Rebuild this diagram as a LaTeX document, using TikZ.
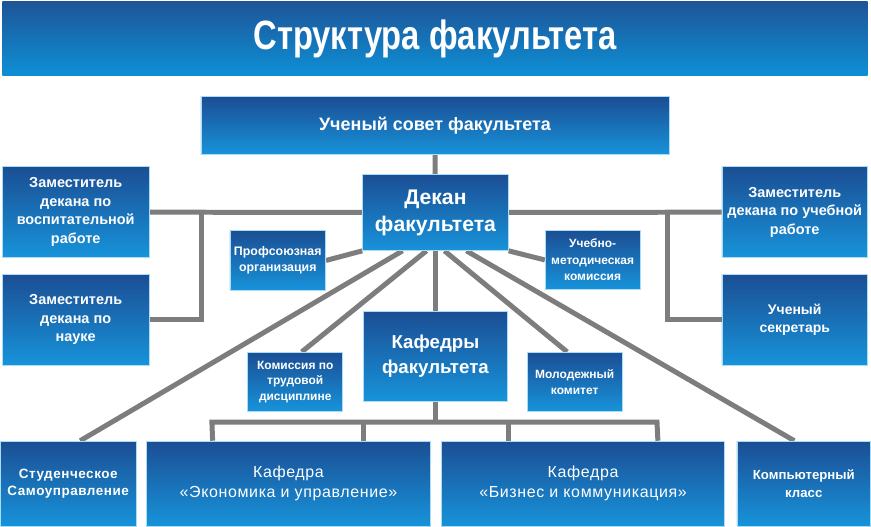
\documentclass[tikz,border=0pt]{standalone}
\usepackage{fontspec}
\setmainfont{Liberation Sans}
\newfontfamily\titlefont[FakeStretch=0.8]{Liberation Sans}
\newfontfamily\kafont[LetterSpace=4]{Liberation Sans}
\usepackage{tikz}
\usetikzlibrary{positioning, backgrounds}
\definecolor{boxTop}{HTML}{1B4E94}
\definecolor{boxBot}{HTML}{1793DA}
\definecolor{boxEdge}{HTML}{A9DDF6}
\definecolor{ttlTop}{HTML}{1D5598}
\definecolor{ttlBot}{HTML}{0E90D6}
\definecolor{link}{HTML}{7D7D7D}
\newcommand{\fs}[2]{\fontsize{#1}{#2}\selectfont}
\begin{document}
\begin{tikzpicture}[x=1pt, y=-1pt, box/.style={draw=boxEdge, line width=0.7pt, top color=boxTop, bottom color=boxBot, text=white, align=center, inner sep=1pt},lnk/.style={draw=link, line width=5pt}]
\node[top color=ttlTop, bottom color=ttlBot, minimum width=867pt, minimum height=74pt, text=white, font=\titlefont\bfseries\fs{41}{46}] (ttl) at (435.5,39) {Структура факультета};
\node[box, minimum width=469pt, minimum height=58pt, font=\bfseries\fs{18}{22}] (sov) at (435.5,126) {Ученый совет факультета};
\node[box, minimum width=146pt, minimum height=76pt, font=\bfseries\fs{21.2}{27}] (dek) at (436,213) {Декан\\факультета};
\node[box, minimum width=147pt, minimum height=91pt, font=\bfseries\fs{14.5}{18.5}] (zv) at (75.5,212.5) {Заместитель\\декана по\\воспитательной\\работе};
\node[box, minimum width=147pt, minimum height=91pt, font=\bfseries\fs{14.5}{18.5}] (zn) at (75.5,320.5) {Заместитель\\декана по\\науке};
\node[box, minimum width=146pt, minimum height=91pt, font=\bfseries\fs{14.5}{18.5}] (zu) at (796,212.5) {Заместитель\\декана по учебной\\работе};
\node[box, minimum width=146pt, minimum height=91pt, font=\bfseries\fs{14}{18.5}] (us) at (796,320.5) {Ученый\\секретарь};
\node[box, minimum width=96pt, minimum height=60pt, font=\bfseries\fs{12.4}{16}] (prof) at (278,261) {Профсоюзная\\организация};
\node[box, minimum width=95pt, minimum height=59pt, font=\bfseries\fs{12}{16.5}] (umk) at (593.5,260.5) {Учебно-\\методическая\\комиссия};
\node[box, minimum width=144pt, minimum height=90pt, font=\bfseries\fs{18.7}{25}] (kaf) at (436,357) {Кафедры\\факультета};
\node[box, minimum width=95pt, minimum height=59pt, font=\bfseries\fs{12}{15.5}] (kom) at (295.5,382.5) {Комиссия по\\трудовой\\дисциплине};
\node[box, minimum width=95pt, minimum height=59pt, font=\bfseries\fs{12}{16}] (mol) at (575.5,382.5) {Молодежный\\комитет};
\node[box, minimum width=136pt, minimum height=85pt, font=\kafont\bfseries\fs{13.5}{16.5}] (stud) at (68,484.5) {Студенческое\\Самоуправление};
\node[box, minimum width=284pt, minimum height=85pt, font=\kafont\fs{16}{20}, right=10pt of stud] (ke) {Кафедра\\«Экономика и управление»};
\node[box, minimum width=283pt, minimum height=85pt, font=\kafont\fs{16}{20}, right=11pt of ke] (kb) {Кафедра\\«Бизнес и коммуникация»};
\node[box, minimum width=134pt, minimum height=85pt, font=\bfseries\fs{13.2}{18}, right=12pt of kb] (komp) {Компьютерный\\класс};
\begin{scope}[on background layer]
\path[use as bounding box, fill=white] (0,0) rectangle (871,527);
\coordinate (lj) at (202,213); \coordinate (rj) at (669,213);
\coordinate (bl) at (212,423); \coordinate (br) at (658,423);
\draw[lnk] (sov) -- (dek);
\draw[lnk] (zv) -- (dek); \draw[lnk] (dek) -- (zu);
\draw[lnk] (lj) |- (zn); \draw[lnk] (rj) |- (us);
\draw[lnk] (dek.south west) -- (prof.east); \draw[lnk] (dek.south east) -- (umk.west);
\draw[lnk] (dek) -- (kaf);
\draw[lnk] ([xshift=-33pt]dek.south) -- ([xshift=12pt]stud.north);
\draw[lnk] ([xshift=-9pt]dek.south) -- ([xshift=6.5pt]kom.north);
\draw[lnk] ([xshift=9pt]dek.south) -- ([xshift=-7.5pt]mol.north);
\draw[lnk] ([xshift=31pt]dek.south) -- ([xshift=-9.5pt]komp.north);
\draw[lnk] (kaf) -- (kaf |- bl);
\draw[lnk] ([xshift=-76pt]ke.north) -- (bl) -- (br) -- ([xshift=75pt]kb.north);
\draw[lnk] ([xshift=75pt]ke.north) -- ++(0,-19); \draw[lnk] ([xshift=-75pt]kb.north) -- ++(0,-19);
\end{scope}
\end{tikzpicture}
\end{document}
